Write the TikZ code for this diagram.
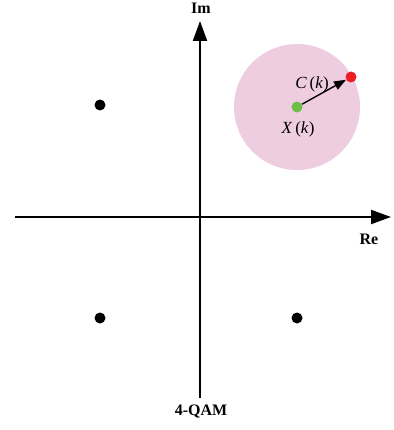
\documentclass[tikz,border=0pt]{standalone}
\usepackage{fontspec}
\setmainfont{Liberation Serif}
\usetikzlibrary{arrows.meta}
\definecolor{pinkfill}{RGB}{238,205,225}
\definecolor{greendot}{RGB}{110,190,70}
\definecolor{reddot}{RGB}{235,30,35}
\tikzset{
  axis/.style={line width=2pt,-{Triangle[length=20pt,width=14pt]}},
  dot/.style={circle,fill=black,inner sep=0pt,minimum size=11pt},
  lbl/.style={font=\bfseries\fontsize{16}{18}\selectfont},
  mlbl/.style={font=\fontsize{17}{19}\selectfont}
}
\begin{document}
\begin{tikzpicture}[x=1pt,y=-1pt]
\useasboundingbox (0,0) rectangle (393,430);
\coordinate (xl) at (15,217);
\coordinate (xr) at (391,217);
\coordinate (yb) at (200,398);
\coordinate (yt) at (200,21);
\node[circle,fill=pinkfill,minimum size=126pt,inner sep=0pt] (disk) at (297,107) {};
\draw[axis] (xl) -- (xr);
\draw[axis] (yb) -- (yt);
\node[dot] (p1) at (100,105) {};
\node[dot] (p2) at (100,318) {};
\node[dot] (p3) at (297,318) {};
\node[circle,fill=greendot,inner sep=0pt,minimum size=11pt] (g) at (297,107) {};
\node[circle,fill=reddot,inner sep=0pt,minimum size=11pt] (r) at (351,77) {};
\draw[line width=1.4pt,-{Triangle[length=12pt,width=9pt]}] (g) -- (r);
\node[mlbl] (ck) at (312,84) {\textit{C}\,(\textit{k})};
\node[mlbl] (xk) at (298,129) {\textit{X}\,(\textit{k})};
\node[lbl] (im) at (201,8) {Im};
\node[lbl] (re) at (369,239) {Re};
\node[lbl] (qam) at (201,411) {4-QAM};
\end{tikzpicture}
\end{document}
